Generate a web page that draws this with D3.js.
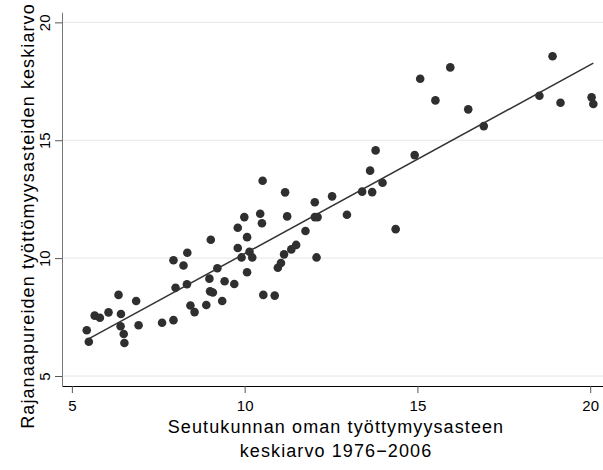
<!DOCTYPE html>
<meta charset="utf-8">
<style>
body { margin: 0; background: #fff; }
text { font-family: "Liberation Sans", Arial, sans-serif; fill: #000; }
.tick text { font-size: 15px; }
.label { font-size: 18px; letter-spacing: 1.1px; }
</style>
<svg width="603" height="470"></svg>
<script src="https://d3js.org/d3.v7.min.js"></script>
<script>

// Seutukunnat: oma työttömyysaste (x) vs. rajanaapureiden keskiarvo (y)
var xVals = [5.43, 5.49, 5.66, 5.81, 6.06, 6.35, 6.42, 6.41, 6.50, 6.52,
             6.86, 6.93, 7.61, 7.94, 7.94, 8.23, 8.34, 8.00, 8.33, 8.43,
             8.55, 8.89, 8.98, 9.00, 9.08, 9.21, 9.35, 9.02, 9.42, 9.70,
             9.80, 9.80, 9.99, 10.07, 10.14, 9.91, 10.22, 10.07, 10.45, 10.50,
             10.52, 10.54, 10.87, 10.96, 11.05, 11.14, 11.17, 11.23, 11.35, 11.49,
             11.76, 12.03, 12.03, 12.11, 12.08, 12.53, 12.96, 13.40, 13.69, 13.63,
             13.79, 13.99, 14.37, 14.92, 15.08, 15.52, 15.95, 16.47, 16.92, 18.53,
             18.91, 19.14, 20.04, 20.09];
var yVals = [6.94, 6.45, 7.56, 7.47, 7.70, 8.44, 7.63, 7.11, 6.78, 6.40,
             8.18, 7.15, 7.26, 7.37, 9.91, 9.69, 10.23, 8.74, 8.89, 7.99,
             7.71, 8.01, 9.13, 8.59, 8.54, 9.57, 8.18, 10.78, 9.02, 8.90,
             10.43, 11.29, 11.74, 10.89, 10.27, 10.03, 10.03, 9.40, 11.88, 11.48,
             13.28, 8.44, 8.41, 9.59, 9.79, 10.16, 12.79, 11.77, 10.37, 10.56,
             11.15, 12.37, 11.74, 11.74, 10.03, 12.62, 11.84, 12.82, 12.80, 13.71,
             14.57, 13.20, 11.23, 14.37, 17.61, 16.69, 18.09, 16.31, 15.60, 16.89,
             18.56, 16.59, 16.82, 16.54];

// sovitettu suora (päätepisteet)
var fitX = [5.43, 20.09];
var fitY = [6.53, 18.27];

var xTicks = [5, 10, 15, 20];
var yTicks = [5, 10, 15, 20];

var svg = d3.select("svg"),
    margin = {top: 12.7, right: 0, bottom: 84, left: 62},
    width = +svg.attr("width") - margin.left - margin.right,
    height = +svg.attr("height") - margin.top - margin.bottom,
    g = svg.append("g").attr("transform", "translate(" + margin.left + "," + margin.top + ")");

var x = d3.scaleLinear().domain([4.714, 20.37]).range([0, width]);
var y = d3.scaleLinear().domain([4.576, 20.41]).range([height, 0]);

// gridlines
g.append("g").selectAll("line")
  .data(yTicks)
  .enter().append("line")
    .attr("x1", 0).attr("x2", width)
    .attr("y1", function(d) { return y(d); })
    .attr("y2", function(d) { return y(d); })
    .attr("stroke", "#e6e6e6")
    .attr("stroke-width", 1);

// y axis
var yAxis = g.append("g")
  .call(d3.axisLeft(y).tickValues(yTicks).tickSize(7).tickPadding(5).tickSizeOuter(0));
yAxis.select(".domain").attr("stroke", "#777").attr("d", "M0.5,0V" + height);
yAxis.selectAll(".tick line").attr("stroke", "#555");
yAxis.selectAll(".tick text")
  .attr("text-anchor", "middle")
  .attr("transform", "rotate(-90)")
  .attr("x", 0)
  .attr("y", -12.5)
  .attr("dy", 0);

// x axis
var xAxis = g.append("g")
  .attr("transform", "translate(0," + height + ")")
  .call(d3.axisBottom(x).tickValues(xTicks).tickSize(7).tickPadding(7).tickSizeOuter(0));
xAxis.select(".domain").attr("stroke", "#000");
xAxis.selectAll(".tick line").attr("stroke", "#555");

// points
g.append("g").selectAll("circle")
  .data(xVals)
  .enter().append("circle")
    .attr("cx", function(d) { return x(d); })
    .attr("cy", function(d, i) { return y(yVals[i]); })
    .attr("r", 4.3)
    .attr("fill", "#2f2f2f");

// fitted line
var line = d3.line()
  .x(function(d) { return x(d); })
  .y(function(d, i) { return y(fitY[i]); });
g.append("path")
  .datum(fitX)
  .attr("d", line)
  .attr("fill", "none")
  .attr("stroke", "#333")
  .attr("stroke-width", 1.5);

// axis titles
svg.append("text")
  .attr("class", "label")
  .attr("text-anchor", "middle")
  .attr("transform", "translate(33.5,216) rotate(-90)")
  .text("Rajanaapureiden työttömyysasteiden keskiarvo");

svg.append("text")
  .attr("class", "label")
  .attr("text-anchor", "middle")
  .attr("x", 336).attr("y", 433)
  .text("Seutukunnan oman työttymyysasteen");

svg.append("text")
  .attr("class", "label")
  .attr("text-anchor", "middle")
  .attr("x", 336).attr("y", 457)
  .text("keskiarvo 1976\u22122006");

</script>
